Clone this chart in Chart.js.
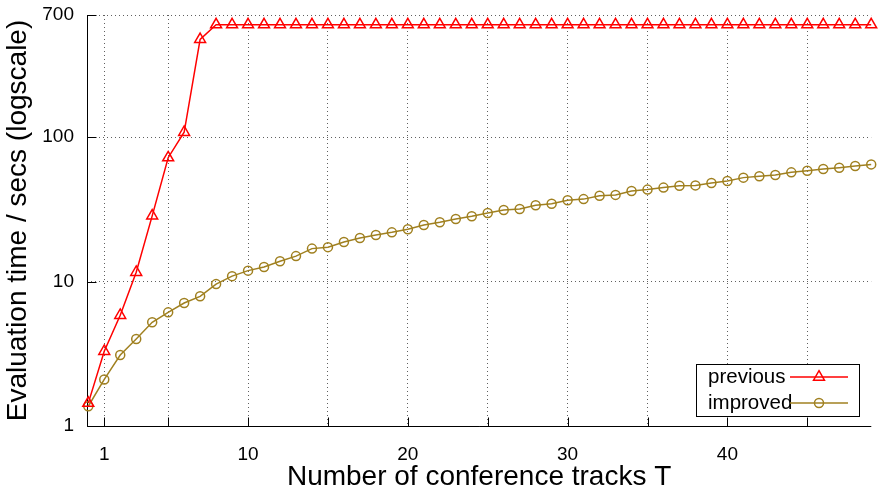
<!DOCTYPE html>
<html>
<head>
<meta charset="utf-8">
<script src="https://cdn.jsdelivr.net/npm/chart.js@4/dist/chart.umd.min.js"></script>
<style>
html,body{margin:0;padding:0;background:#fff;}
#wrap{width:879px;height:491px;}
</style>
</head>
<body>
<div id="wrap"><canvas id="c" width="879" height="491"></canvas></div>
<script>
// ---- data ----
const tracks = [0,1,2,3,4,5,6,7,8,9,10,11,12,13,14,15,16,17,18,19,20,21,22,23,24,25,26,27,28,29,30,31,32,33,34,35,36,37,38,39,40,41,42,43,44,45,46,47,48,49];
const previousTimes = [1.44,3.29,5.84,11.6,28.5,72,108,475,600,600,600,600,600,600,600,600,600,600,600,600,600,600,600,600,600,600,600,600,600,600,600,600,600,600,600,600,600,600,600,600,600,600,600,600,600,600,600,600,600,600];
const improvedTimes = [1.37,2.10,3.10,4.0,5.22,6.12,7.1,7.9,9.6,10.9,11.9,12.6,13.8,15.0,16.9,17.3,18.8,20.0,21.0,21.9,23.0,24.6,25.7,27.1,28.3,29.8,31.3,31.8,33.7,34.6,36.5,37.2,39.3,39.8,42.3,43.3,44.7,46.1,46.3,48.1,49.6,52.4,53.5,54.6,57.0,58.5,60.1,61.4,63.0,64.7];
const seriesNames = ['previous','improved'];
const xTickValues = [1,5,10,15,20,25,30,35,40,45];
const xTickLabels = ['1','','10','','20','','30','','40',''];
const yTickValues = [1,10,100,700];
const yTickLabels = ['1','10','100','700'];
const xTitle = 'Number of conference tracks T';
const yTitle = 'Evaluation time / secs (logscale)';

// ---- styles ----
const FONT = "'Liberation Sans', Arial, Helvetica, sans-serif";
const RED = '#ff0000';
const GOLD = '#a08020';
const GRID = '#606060';

function toPoints(ys){ return tracks.map((t,i)=>({x:t, y:ys[i]})); }

function markerPath(ctx, style, x, y, r){
  ctx.beginPath();
  if (style === 'triangle') {
    let rad = 0;
    ctx.moveTo(x + Math.sin(rad)*r, y - Math.cos(rad)*r);
    rad += 2*Math.PI/3;
    ctx.lineTo(x + Math.sin(rad)*r, y - Math.cos(rad)*r);
    rad += 2*Math.PI/3;
    ctx.lineTo(x + Math.sin(rad)*r, y - Math.cos(rad)*r);
    ctx.closePath();
  } else {
    ctx.arc(x, y, r, 0, Math.PI*2);
  }
}

const decor = {
  id: 'decor',
  beforeDatasetsDraw(chart){
    const {ctx, chartArea:a, scales:{x, y}} = chart;
    ctx.save();
    ctx.setLineDash([]);
    ctx.strokeStyle = '#000';
    ctx.lineWidth = 1;
    const lx = Math.round(a.left) + 0.5;
    const by = Math.round(a.bottom) + 0.5;
    ctx.beginPath();
    ctx.moveTo(lx, a.top);
    ctx.lineTo(lx, by);
    ctx.lineTo(a.right, by);
    yTickValues.forEach(v => {
      const py = Math.round(y.getPixelForValue(v)) + 0.5;
      ctx.moveTo(lx, py); ctx.lineTo(lx + 9, py);
    });
    xTickValues.forEach(v => {
      const px = Math.round(x.getPixelForValue(v)) + 0.5;
      ctx.moveTo(px, by); ctx.lineTo(px, by - 9);
    });
    ctx.stroke();
    ctx.restore();
  },
  afterDraw(chart){
    const {ctx} = chart;
    ctx.save();
    ctx.setLineDash([]);
    ctx.fillStyle = '#fff';
    ctx.fillRect(696, 364, 163, 52);
    ctx.strokeStyle = '#000';
    ctx.lineWidth = 1;
    ctx.strokeRect(696.5, 364.5, 163, 52);
    const rows = [377, 403];
    chart.data.datasets.forEach((ds, i) => {
      const yy = rows[i];
      ctx.fillStyle = '#000';
      ctx.font = '20.5px ' + FONT;
      ctx.textAlign = 'left';
      ctx.textBaseline = 'middle';
      ctx.fillText(ds.label, 708, yy);
      ctx.strokeStyle = ds.borderColor;
      ctx.lineWidth = 1.5;
      ctx.beginPath();
      ctx.moveTo(790, yy); ctx.lineTo(848, yy);
      ctx.stroke();
      markerPath(ctx, ds.pointStyle, 819, yy, ds.pointRadius);
      ctx.stroke();
    });
    ctx.restore();
  }
};

new Chart(document.getElementById('c').getContext('2d'), {
  type: 'line',
  data: {
    datasets: [
      {
        label: seriesNames[0],
        data: toPoints(previousTimes),
        borderColor: RED,
        borderWidth: 1.5,
        pointStyle: 'triangle',
        pointRadius: 6.3,
        pointBorderColor: RED,
        pointBackgroundColor: 'rgba(0,0,0,0)',
        pointBorderWidth: 1.5,
        tension: 0,
        clip: false
      },
      {
        label: seriesNames[1],
        data: toPoints(improvedTimes),
        borderColor: GOLD,
        borderWidth: 1.5,
        pointStyle: 'circle',
        pointRadius: 4.5,
        pointBorderColor: GOLD,
        pointBackgroundColor: 'rgba(0,0,0,0)',
        pointBorderWidth: 1.5,
        tension: 0,
        clip: false
      }
    ]
  },
  options: {
    responsive: false,
    animation: false,
    devicePixelRatio: 1,
    layout: { padding: { top: 15, right: 7, left: 0, bottom: 0 } },
    plugins: { legend: { display: false }, tooltip: { enabled: false } },
    scales: {
      x: {
        type: 'linear',
        bounds: 'data',
        min: -0.08,
        max: 49,
        afterBuildTicks: s => { s.ticks = xTickValues.map(v => ({ value: v })); },
        afterFit: s => { s.height = 65; s.paddingLeft = 0; s.paddingRight = 0; },
        ticks: {
          autoSkip: false, maxRotation: 0, minRotation: 0, padding: 17,
          color: '#000', font: { family: FONT, size: 19 },
          callback: v => { const i = xTickValues.indexOf(v); return i >= 0 ? xTickLabels[i] : ''; }
        },
        grid: { color: GRID, lineWidth: 1, drawTicks: false },
        border: { display: false, dash: [1, 3] },
        title: {
          display: true, text: xTitle, color: '#000',
          font: { family: FONT, size: 28, lineHeight: 1 },
          padding: { top: 0, bottom: 0 }
        }
      },
      y: {
        type: 'logarithmic',
        bounds: 'data',
        min: 1,
        max: 700,
        afterBuildTicks: s => { s.ticks = yTickValues.map(v => ({ value: v })); },
        afterFit: s => { s.width = 87; s.paddingTop = 0; s.paddingBottom = 0; },
        ticks: {
          padding: 13, color: '#000', font: { family: FONT, size: 19 },
          callback: v => { const i = yTickValues.indexOf(v); return i >= 0 ? yTickLabels[i] : ''; }
        },
        grid: { color: GRID, lineWidth: 1, drawTicks: false },
        border: { display: false, dash: [1, 3] },
        title: {
          display: true, text: yTitle, color: '#000',
          font: { family: FONT, size: 28, lineHeight: 1 },
          padding: { top: 4.6, bottom: 0 }
        }
      }
    }
  },
  plugins: [decor]
});
</script>
</body>
</html>
